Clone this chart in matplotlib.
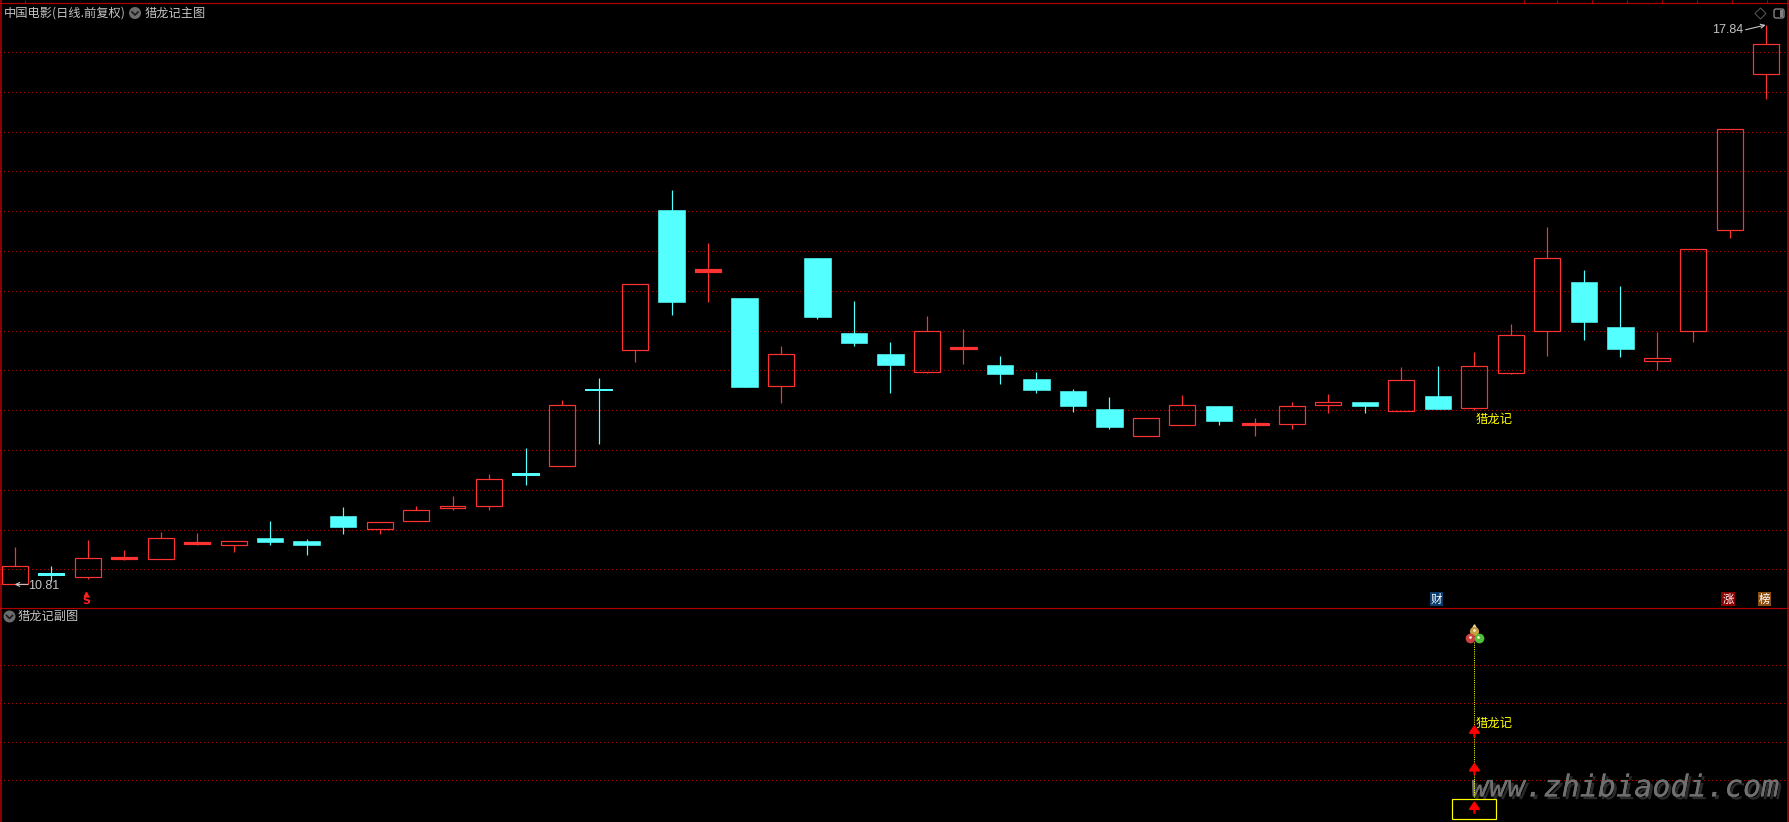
import matplotlib
matplotlib.use('Agg')
import matplotlib.pyplot as plt
import matplotlib.patheffects as pe
from matplotlib.patches import Rectangle, Circle, Polygon, FancyBboxPatch

plt.rcParams['font.family'] = ['Noto Sans CJK SC', 'DejaVu Sans']

# Daily prices
opens = [10.81, 10.95, 10.90, 11.13, 11.13, 11.32, 11.30, 11.39, 11.36, 11.67,
         11.51, 11.61, 11.77, 11.80, 12.21, 12.30, 13.27, 13.75, 15.52, 14.74,
         14.41, 13.30, 14.91, 13.97, 13.71, 13.48, 13.77, 13.57, 13.39, 13.24,
         13.02, 12.67, 12.81, 13.05, 12.81, 12.83, 13.06, 13.10, 12.99, 13.18,
         13.03, 13.47, 14.00, 14.61, 14.05, 13.62, 14.00, 15.27, 17.22]
highs = [11.28, 11.04, 11.37, 11.24, 11.47, 11.46, 11.35, 11.61, 11.38, 11.78,
         11.59, 11.80, 11.92, 12.20, 12.52, 13.13, 13.40, 14.58, 15.77, 15.10,
         14.41, 13.81, 14.91, 14.37, 13.86, 14.18, 14.02, 13.68, 13.48, 13.27,
         13.17, 12.90, 13.19, 13.05, 12.90, 13.10, 13.20, 13.10, 13.54, 13.56,
         13.73, 14.08, 15.30, 14.76, 14.56, 13.98, 15.02, 16.53, 17.84]
lows = [10.81, 10.85, 10.88, 11.12, 11.13, 11.31, 11.22, 11.31, 11.18, 11.44,
        11.44, 11.61, 11.75, 11.75, 12.06, 12.30, 12.58, 13.61, 14.20, 14.36,
        13.29, 13.09, 14.15, 13.81, 13.22, 13.47, 13.58, 13.33, 13.22, 12.98,
        12.76, 12.67, 12.81, 12.81, 12.68, 12.76, 12.96, 12.96, 12.99, 13.02,
        13.00, 13.45, 13.68, 13.88, 13.67, 13.50, 13.86, 15.16, 16.91]
closes = [11.04, 10.93, 11.14, 11.16, 11.39, 11.34, 11.35, 11.34, 11.31, 11.53,
          11.59, 11.75, 11.80, 12.13, 12.19, 13.07, 13.25, 14.58, 14.36, 14.77,
          13.29, 13.70, 14.17, 13.84, 13.57, 14.00, 13.79, 13.45, 13.25, 13.05,
          12.79, 12.90, 13.06, 12.86, 12.84, 13.05, 13.10, 13.05, 13.38, 13.02,
          13.56, 13.94, 14.91, 14.11, 13.77, 13.65, 15.02, 16.53, 17.60]

price_grid = [11.0, 11.5, 12.0, 12.5, 13.0, 13.5, 14.0, 14.5, 15.0, 15.5, 16.0, 16.5, 17.0, 17.5]
sub_grid = [1, 2, 3, 4]

signal_day = 40
signal_top = 4.62
signal_bottom = 0.57
arrow_tips = [2.44, 1.46, 0.46]
low_day = 0
low_price = 10.81
high_day = 48
high_price = 17.84
flags = [(39, '财', '#0a3c6e'), (47, '涨', '#8b0000'), (48, '榜', '#8b4f14')]

W, H = 1789, 822
RED = '#ff3232'
CYAN = '#54ffff'
BORDER = '#b00000'
GRID = '#b00000'
TEXT = '#c4c4c4'
PX = 0.72  # one pixel in points

fig = plt.figure(figsize=(W / 100, H / 100), dpi=100, facecolor='black')


def make_axes(top, bottom):
    ax = fig.add_axes([0, 1 - bottom / H, 1, (bottom - top) / H], facecolor='black')
    ax.set_xlim(-0.40, 48.62)
    ax.set_xticks([])
    ax.set_yticks([])
    for s in ax.spines.values():
        s.set_visible(False)
    return ax


ax = make_axes(3.5, 607.5)
ax.set_ylim(10.52, 18.11)
sub = make_axes(607.5, 822)
sub.set_ylim(-0.086, 5.49)

# Grid
for p in price_grid:
    ax.axhline(p, color=GRID, lw=PX, ls=(0, (1, 3)), antialiased=False, zorder=1)
for v in sub_grid:
    sub.axhline(v, color=GRID, lw=PX, ls=(0, (1, 3)), antialiased=False, zorder=1)

# Candles
for i in range(len(opens)):
    o, h, l, c = opens[i], highs[i], lows[i], closes[i]
    if c >= o:
        ax.vlines(i, c, h, color=RED, lw=PX * 1.2, zorder=3)
        ax.vlines(i, l, o, color=RED, lw=PX * 1.2, zorder=3)
        ax.bar(i, c - o, bottom=o, width=0.71, facecolor='none', edgecolor=RED, lw=PX * 1.2, zorder=3)
    else:
        ax.vlines(i, l, h, color=CYAN, lw=PX * 1.2, zorder=3)
        ax.bar(i, c - o, bottom=o, width=0.72, facecolor=CYAN, edgecolor=CYAN, lw=PX * 0.6, zorder=4)

# Thin doji bodies are drawn solid
for i in range(len(opens)):
    if abs(closes[i] - opens[i]) <= 0.03:
        col = RED if closes[i] >= opens[i] else CYAN
        ax.bar(i, closes[i] - opens[i], bottom=opens[i], width=0.72, facecolor=col, edgecolor=col, lw=PX, zorder=4)

# Low / high labels
ax.annotate('', xy=(low_day, low_price), xytext=(low_day + 0.36, low_price),
            arrowprops=dict(arrowstyle='->', color=TEXT, lw=0.8, shrinkA=0, shrinkB=0, mutation_scale=7), zorder=6)
ax.text(low_day + 0.36, low_price - 0.015, '10.81', color=TEXT, fontsize=9, family='Liberation Sans',
        va='center', ha='left', zorder=6)
ax.annotate('', xy=(high_day - 0.02, high_price), xytext=(high_day - 0.57, high_price - 0.06),
            arrowprops=dict(arrowstyle='->', color=TEXT, lw=0.8, shrinkA=0, shrinkB=0, mutation_scale=7), zorder=6)
ax.text(high_day - 0.62, high_price - 0.06, '17.84', color=TEXT, fontsize=9, family='Liberation Sans',
        va='center', ha='right', zorder=6)

# Signal labels
ax.text(signal_day + 0.02, 12.88, '猎龙记', color='#ffff00', fontsize=8.9, va='center', ha='left', zorder=6)
sub.text(signal_day + 0.02, 2.49, '猎龙记', color='#ffff00', fontsize=8.9, va='center', ha='left', zorder=6)

# S mark
ax.text(1.95, 10.60, 'S', color='#ff2020', fontsize=8, fontweight='bold', family='DejaVu Sans',
        va='center', ha='center', zorder=6)
ax.plot([1.95], [10.69], marker='^', ms=3, color='#ff2020', zorder=6)

# Flag boxes
for day, label, col in flags:
    ax.add_patch(Rectangle((day - 0.23, 10.545), 0.36, 0.165, facecolor=col, edgecolor='none', zorder=5))
    ax.text(day - 0.05, 10.625, label, color='white', fontsize=8.2, va='center', ha='center', zorder=6)

# Lower panel signal
wm = sub.text(39.9, 0.80, 'www.zhibiaodi.com', color='#707070', fontsize=21.7, family='DejaVu Sans Mono',
              style='oblique', va='center', ha='left', zorder=2)
wm.set_path_effects([pe.withSimplePatchShadow(offset=(2, -2), shadow_rgbFace='#2a2a2a', alpha=1.0), pe.Normal()])
sub.vlines(signal_day, signal_bottom, signal_top, color='#ffff00', lw=PX, ls=(0, (1, 1.2)), zorder=3)
sub.add_patch(Rectangle((signal_day - 0.62, 0), 1.22, 0.5, facecolor='none', edgecolor='#ffff00', lw=PX * 1.2, zorder=4))
for tip in arrow_tips:
    sub.annotate('', xy=(signal_day, tip), xytext=(signal_day, tip - 0.31),
                 arrowprops=dict(arrowstyle='-|>,head_width=0.32,head_length=0.45', color='#ff0000', lw=1.5,
                                 shrinkA=0, shrinkB=0, mutation_scale=10), zorder=5)
# Three balls on top of the signal line
sub.plot([signal_day], [5.0], marker='^', ms=2.5, color='#e8d8a0', zorder=6)
sub.plot([signal_day], [4.88], marker='o', ms=6.6, color='#c8a040', mec='none', zorder=6)
sub.plot([signal_day - 0.11], [4.69], marker='o', ms=7, color='#cc4040', mec='none', zorder=6)
sub.plot([signal_day + 0.12], [4.69], marker='o', ms=7, color='#50c038', mec='none', zorder=6)
sub.plot([signal_day, signal_day - 0.13, signal_day + 0.10], [4.90, 4.72, 4.72], ls='none', marker='o', ms=2,
         color='#f0f0d0', mec='none', zorder=7)

# Chrome in pixel coordinates: borders, panel titles, icons
chrome = fig.add_axes([0, 0, 1, 1], facecolor='none')
chrome.set_xlim(0, W)
chrome.set_ylim(H, 0)
chrome.axis('off')
chrome.plot([0, W], [3.5, 3.5], color=BORDER, lw=PX * 1.2)
chrome.plot([0, W], [607.5, 607.5], color=BORDER, lw=PX * 1.2)
chrome.plot([1, 1], [0, H], color=BORDER, lw=PX * 1.6)
chrome.plot([1788, 1788], [0, H], color=BORDER, lw=PX * 1.6)
top_ticks = [24.5, 1523.5, 1557, 1592, 1627, 1662, 1697, 1732, 1767]
chrome.vlines(top_ticks, 0, 3, color=BORDER, lw=PX)

chrome.text(4, 13, '中国电影(日线.前复权)', color=TEXT, fontsize=8.8, va='center', ha='left')
chrome.text(145, 13, '猎龙记主图', color=TEXT, fontsize=8.8, va='center', ha='left')
chrome.text(18, 616.5, '猎龙记副图', color=TEXT, fontsize=8.8, va='center', ha='left')
for cx, cy in [(135, 13), (9.5, 616.5)]:
    chrome.add_patch(Circle((cx, cy), 6, facecolor='#6c6c6c', edgecolor='none'))
    chrome.plot([cx - 3, cx, cx + 3], [cy - 1, cy + 2, cy - 1], color='#1a1a1a', lw=1.2)

chrome.add_patch(Polygon([(1760.5, 8), (1766, 13.5), (1760.5, 19), (1755, 13.5)], closed=True,
                         facecolor='none', edgecolor='#5a5a5a', lw=PX))
chrome.add_patch(FancyBboxPatch((1774, 9), 10, 9, boxstyle='round,pad=0,rounding_size=2',
                                facecolor='none', edgecolor='#808080', lw=PX * 1.4))
chrome.add_patch(Rectangle((1779.5, 10), 3.5, 7, facecolor='#808080', edgecolor='none'))

fig.savefig('out.png', dpi=100, facecolor='black')
